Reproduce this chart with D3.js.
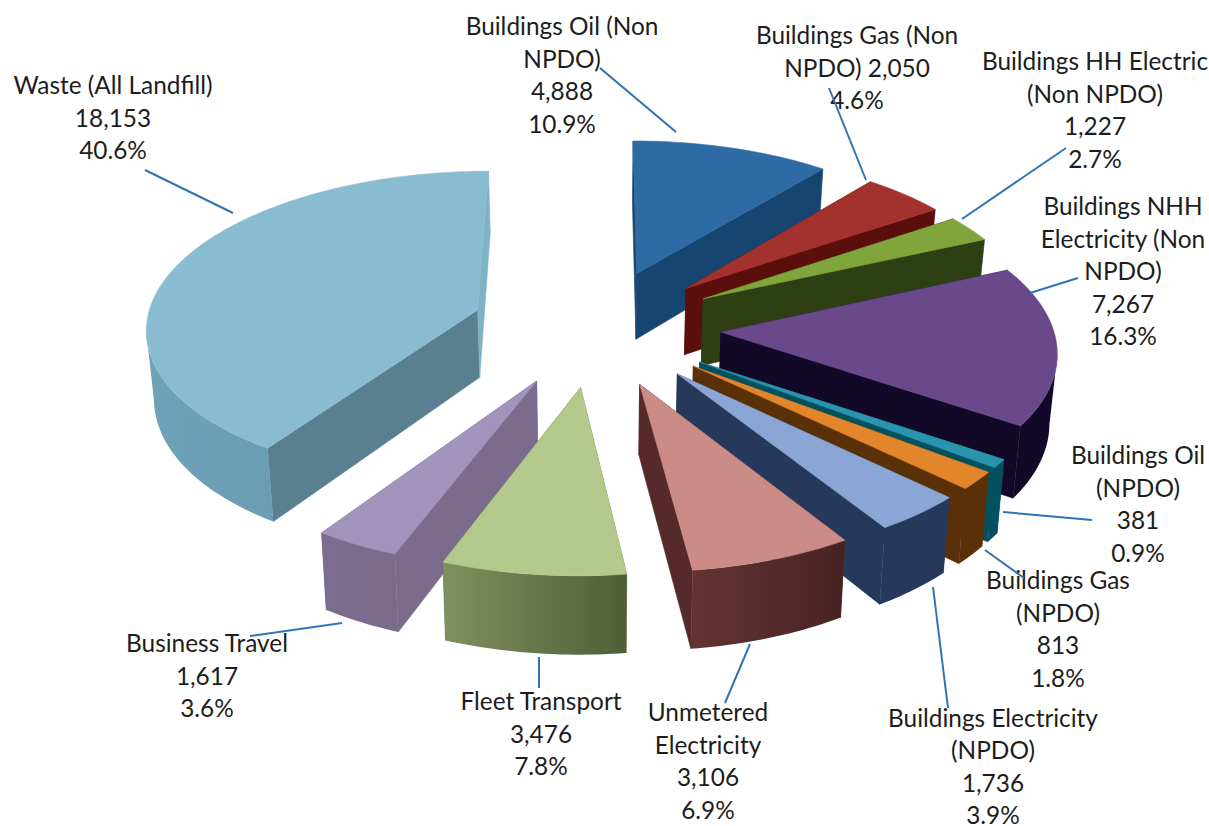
<!DOCTYPE html>
<html><head><meta charset="utf-8">
<style>html,body{margin:0;padding:0;background:#fff}svg{display:block}text{font-family:Lato,"Open Sans",sans-serif;font-size:24.4px;fill:#1d1d1b;text-anchor:middle;dominant-baseline:central}</style>
<script src="https://cdnjs.cloudflare.com/ajax/libs/d3/7.8.5/d3.min.js"></script>
</head><body><svg id="c" width="1209" height="826"></svg>
<script>
// ---- data ----
const categories = ["Buildings Oil (Non NPDO)","Buildings Gas (Non NPDO)","Buildings HH Electric (Non NPDO)","Buildings NHH Electricity (Non NPDO)","Buildings Oil (NPDO)","Buildings Gas (NPDO)","Buildings Electricity (NPDO)","Unmetered Electricity","Fleet Transport","Business Travel","Waste (All Landfill)"];
const values = [4888,2050,1227,7267,381,813,1736,3106,3476,1617,18153];
const percents = ["10.9%","4.6%","2.7%","16.3%","0.9%","1.8%","3.9%","6.9%","7.8%","3.6%","40.6%"];
const labelLines = [
 ["Buildings Oil (Non","NPDO)","4,888","10.9%"],
 ["Buildings Gas (Non","NPDO) 2,050","4.6%"],
 ["Buildings HH Electric","(Non NPDO)","1,227","2.7%"],
 ["Buildings NHH","Electricity (Non","NPDO)","7,267","16.3%"],
 ["Buildings Oil","(NPDO)","381","0.9%"],
 ["Buildings Gas","(NPDO)","813","1.8%"],
 ["Buildings Electricity","(NPDO)","1,736","3.9%"],
 ["Unmetered","Electricity","3,106","6.9%"],
 ["Fleet Transport","3,476","7.8%"],
 ["Business Travel","1,617","3.6%"],
 ["Waste (All Landfill)","18,153","40.6%"]];
// ---- layout and style (separate from data) ----
const topColors  = ["#2e6ba5","#a3322f","#7fa53b","#6a498b","#2a93ad","#e2852b","#8ba6d4","#cb8b87","#b3c98b","#a394bd","#8abcd1"];
const wallColors = ["#16466f","#5b0f0d","#2f3f14","#120929","#03505e","#5a3009","#26395a","#562a2a","#5f6f42","#7b6c8d","#5a7f90"];
const endWallColors = ["#16466f","#5b0f0d","#2f3f14","#120929","#03505e","#5a3009","#26395a","#562a2a","#5f6f42","#7b6c8d","#7fb2c7"];
const outerFrom  = ["#16466f","#5b0f0d","#2f3f14","#120929","#03505e","#5a3009","#26395a","#623534","#7f9060","#7a6d90","#6fa3b9"];
const outerTo    = ["#16466f","#5b0f0d","#2f3f14","#120929","#03505e","#5a3009","#26395a","#482222","#505e36","#7a6b8c","#6a9db2"];
const labelPos = [[562,25],[857,34],[1095,60],[1123,205],[1138,454],[1058,579],[993,716.5],[708,711],[541,700],[207,642],[113,84]];
const lineGap = 32.5;
const leaders = [[[600,68],[676,132]],[[829,88],[866,180]],[[1066,148],[962,219]],[[1078,278],[1030,293]],[[1092,520],[1003,512]],[[1024,578],[985,550]],[[948,708],[933,587]],[[725,703],[750,644]],[[539,688],[539,657]],[[250,636],[342,623]],[[145,170],[233,213]]];
const drawOrder = [10,0,1,2,3,4,5,6,7,9,8];
const cx=596, cy=327, R=332, E=125, K=0.47, D=3300, H=68, converge=0.983;

const pie = d3.pie().sort(null).startAngle(0).endAngle(2*Math.PI);
const arcs = pie(values);

function project(X,Y,z){
  const s = 1/(1-Y/D);
  const x = cx + X*s, y = cy + K*Y*s;
  if(!z) return [x,y];
  return [cx+(x-cx)*converge, y+H*s];
}
const svg = d3.select("#c");
const defs = svg.append("defs");
const line = d3.line();
const closed = pts => line(pts)+"Z";

function geom(a){
  const mid=(a.startAngle+a.endAngle)/2;
  const tx=E*Math.sin(mid), ty=-E*Math.cos(mid);
  const n=Math.max(6,Math.ceil((a.endAngle-a.startAngle)/0.02));
  const angs=d3.range(n+1).map(i=>a.startAngle+(a.endAngle-a.startAngle)*i/n);
  const pts3=angs.map(t=>[tx+R*Math.sin(t),ty-R*Math.cos(t)]);
  return {tx,ty,pts3};
}
drawOrder.forEach(i=>{
  const a=arcs[i], g=geom(a);
  const grp=svg.append("g");
  const tipT=project(g.tx,g.ty), tipB=project(g.tx,g.ty,true);
  const P=g.pts3.map(p=>project(p[0],p[1])), Q=g.pts3.map(p=>project(p[0],p[1],true));
  const last=P.length-1;
  // cut faces
  [[0,wallColors[i]],[last,endWallColors[i]]].forEach(([e,c])=>{
    grp.append("path").attr("d",closed([tipT,P[e],Q[e],tipB]))
      .attr("fill",c).attr("stroke",c).attr("stroke-width",.6);
  });
  // outer wall: only the part facing the viewer
  const vis=[];
  for(let k=0;k<last;k++){ if(P[k+1][0]<P[k][0]) vis.push(k); }
  if(vis.length && (a.endAngle+a.startAngle)/2>Math.PI/2*0.99 ){
    const f=vis[0], l=vis[vis.length-1]+1;
    const id="o"+i;
    const gr=defs.append("linearGradient").attr("id",id).attr("x1",0).attr("x2",1).attr("y1",0).attr("y2",0);
    gr.append("stop").attr("offset",0).attr("stop-color",outerFrom[i]);
    gr.append("stop").attr("offset",1).attr("stop-color",outerTo[i]);
    const top=P.slice(f,l+1), bot=Q.slice(f,l+1).reverse();
    grp.append("path").attr("d",closed(top.concat(bot))).attr("fill",`url(#${id})`);
  }
  // top face
  grp.append("path").attr("d",closed([tipT].concat(P)))
     .attr("fill",topColors[i]).attr("stroke",topColors[i]).attr("stroke-width",.6).attr("stroke-linejoin","round");
});
// labels, then leader lines
labelLines.forEach((ls,i)=>{
  const t=svg.append("text");
  ls.forEach((s,j)=>t.append("tspan").attr("x",labelPos[i][0]).attr("y",labelPos[i][1]+j*lineGap).text(s));
});
leaders.forEach(l=>svg.append("path").attr("d",line(l)).attr("fill","none").attr("stroke","#2f74b5").attr("stroke-width",2));
</script></body></html>
